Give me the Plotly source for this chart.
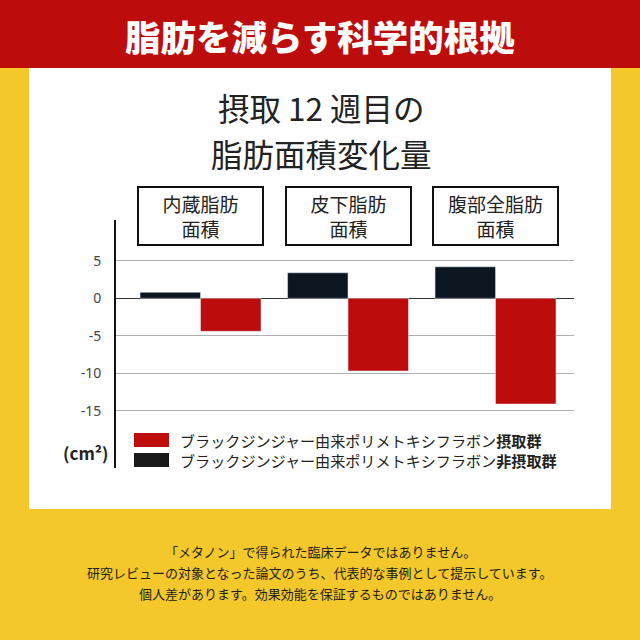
import plotly.graph_objects as go

# ---- data ----
categories = ["内蔵脂肪面積", "皮下脂肪面積", "腹部全脂肪面積"]
category_labels = ["内蔵脂肪<br>面積", "皮下脂肪<br>面積", "腹部全脂肪<br>面積"]
non_intake = [0.8, 3.4, 4.2]      # 非摂取群
intake = [-4.4, -9.7, -14.1]      # 摂取群
y_ticks = [5, 0, -5, -10, -15]
y_tick_labels = ["5", "0", "-5", "-10", "-15"]

series_name_base = "ブラックジンジャー由来ポリメトキシフラボン"
legend_labels = [series_name_base + "<b>摂取群</b>", series_name_base + "<b>非摂取群</b>"]

header_title = "脂肪を減らす科学的根拠"
chart_title_lines = ["摂取 12 週目の", "脂肪面積変化量"]
unit_label = "(cm²)"
footer_lines = [
    "「メタノン」で得られた臨床データではありません。",
    "研究レビューの対象となった論文のうち、代表的な事例として提示しています。",
    "個人差があります。効果効能を保証するものではありません。",
]

RED = "#BC0C0C"
BLACK = "#0B1620"
YELLOW = "#F4C82A"
FONT = "Noto Sans CJK JP"

W = H = 640
def px(x):
    return x / W
def py(y):
    return 1 - y / H

fig = go.Figure()
fig.add_trace(go.Bar(x=categories, y=non_intake, marker_color=BLACK, name="非摂取群",
                     showlegend=False))
fig.add_trace(go.Bar(x=categories, y=intake, marker_color=RED, name="摂取群",
                     showlegend=False))

shapes = [
    dict(type="rect", xref="paper", yref="paper", x0=px(29), x1=px(611), y0=py(509), y1=py(60),
         fillcolor="white", line_width=0, layer="below"),
    dict(type="rect", xref="paper", yref="paper", x0=0, x1=1, y0=py(68), y1=1,
         fillcolor=RED, line_width=0, layer="below"),
    # legend swatches
    dict(type="rect", xref="paper", yref="paper", x0=px(134), x1=px(169), y0=py(447), y1=py(433),
         fillcolor=RED, line_width=0),
    dict(type="rect", xref="paper", yref="paper", x0=px(134), x1=px(169), y0=py(467), y1=py(453),
         fillcolor="#1A1A1A", line_width=0),
]

annotations = [
    dict(text=header_title, x=0.5, y=py(35), xref="paper", yref="paper",
         showarrow=False, font=dict(family=FONT, size=35.5, color="white", weight=900),
         xanchor="center", yanchor="middle"),
    dict(text="<b>" + unit_label + "</b>", x=px(85), y=py(452), xref="paper", yref="paper",
         showarrow=False, font=dict(family=FONT, size=17, color="#222"), xanchor="center", yanchor="middle"),
    dict(text=legend_labels[0], x=px(178), y=py(440), xref="paper", yref="paper",
         showarrow=False, font=dict(family=FONT, size=15.1, color="#222"), xanchor="left", yanchor="middle"),
    dict(text=legend_labels[1], x=px(178), y=py(460), xref="paper", yref="paper",
         showarrow=False, font=dict(family=FONT, size=15.1, color="#222"), xanchor="left", yanchor="middle"),
]
for i, line in enumerate(chart_title_lines):
    annotations.append(dict(text=line, x=px(321), y=py(107 + 46 * i), xref="paper", yref="paper",
                            showarrow=False, font=dict(family=FONT, size=31.5, color="#222"),
                            xanchor="center", yanchor="middle"))
for cat, lab in zip(categories, category_labels):
    annotations.append(dict(text=lab, x=cat, xref="x", y=py(216), yref="paper", showarrow=False,
                            font=dict(family=FONT, size=19, color="#222"),
                            bordercolor="#111", borderwidth=2, borderpad=0, bgcolor="white",
                            width=123, height=56, xanchor="center", yanchor="middle"))
for i, line in enumerate(footer_lines):
    annotations.append(dict(text=line, x=0.5, y=py(551 + 21 * i), xref="paper", yref="paper",
                            showarrow=False, font=dict(family=FONT, size=13, color="#222"),
                            xanchor="center", yanchor="middle"))

fig.update_layout(
    width=W, height=H,
    margin=dict(l=0, r=0, t=0, b=0),
    paper_bgcolor=YELLOW,
    plot_bgcolor="white",
    barmode="group", bargap=0.18, bargroupgap=0,
    showlegend=False,
    shapes=shapes,
    annotations=annotations,
    xaxis=dict(domain=[px(116), px(574)], range=[-0.573, 2.532], showticklabels=False,
               showgrid=False, zeroline=False, showline=False, ticks=""),
    yaxis=dict(domain=[py(468), py(220)], range=[-22.63, 10.44], tickvals=y_ticks,
               ticktext=y_tick_labels, showgrid=True, gridcolor="#B0B0B0", gridwidth=1,
               zeroline=True, zerolinecolor="#333", zerolinewidth=1,
               showline=True, linecolor="#111", linewidth=2, ticks="",
               ticklabelstandoff=10,
               tickfont=dict(family="Noto Sans", size=14, color="#444")),
)

fig.write_html("out.html",
               config={"displayModeBar": False},
               post_script="document.body.style.margin='0';document.body.style.padding='0';"
                           "document.body.style.overflow='hidden';")
